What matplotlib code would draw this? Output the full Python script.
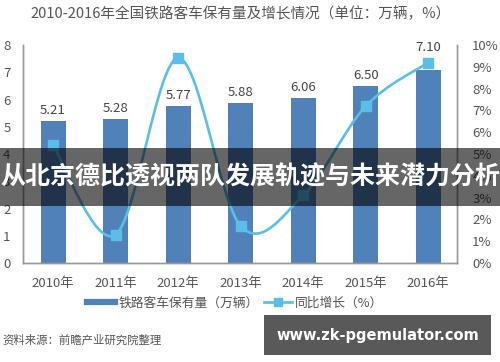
import numpy as np
import matplotlib
matplotlib.use("Agg")
import matplotlib.pyplot as plt
from matplotlib.path import Path
from matplotlib.patches import PathPatch, Rectangle
from matplotlib.lines import Line2D

plt.rcParams['font.family'] = ['Noto Sans CJK SC', 'DejaVu Sans']

# 数据
years = ['2010年', '2011年', '2012年', '2013年', '2014年', '2015年', '2016年']
stock = [5.21, 5.28, 5.77, 5.88, 6.06, 6.50, 7.10]      # 万辆
growth = [5.4, 1.3, 9.4, 1.7, 3.1, 7.2, 9.2]             # %
left_ticks = [0, 1, 2, 3, 4, 5, 6, 7, 8]
right_ticks = [0, 1, 2, 3, 4, 5, 6, 7, 8, 9, 10]
right_labels = ['%d%%' % t for t in right_ticks]

bar_color = '#5181b9'
line_color = '#5bbdea'
text_gray = '#555555'

fig = plt.figure(figsize=(5, 3.62), dpi=100)
ax = fig.add_axes([0.046, 0.2735, 0.868, 0.602])
ax2 = ax.twinx()

x = np.arange(len(years))
ax.bar(x, stock, width=0.4, color=bar_color, zorder=2)

ax.set_xlim(-0.48, 6.46)
ax.set_ylim(0, 8)
ax2.set_ylim(0, 10)
ax.set_xticks(x)
ax.set_xticklabels(years)
ax.set_yticks(left_ticks)
ax2.set_yticks(right_ticks)
ax2.set_yticklabels(right_labels)

for a in (ax, ax2):
    a.spines['top'].set_visible(False)
    for s in ('left', 'right', 'bottom'):
        a.spines[s].set_color('#999999')
        a.spines[s].set_linewidth(1)
ax.tick_params(axis='x', length=0, pad=10, labelsize=9.5, labelcolor=text_gray)
ax.tick_params(axis='y', length=0, pad=9, labelsize=9.5, labelcolor=text_gray)
ax2.tick_params(axis='y', length=0, pad=11, labelsize=9.5, labelcolor=text_gray)

# 平滑曲线 (Catmull-Rom -> Bezier)
pts = np.column_stack([x, growth]).astype(float)
verts = [tuple(pts[0])]
codes = [Path.MOVETO]
n = len(pts)
for i in range(n - 1):
    p0 = pts[max(i - 1, 0)]
    p1 = pts[i]
    p2 = pts[i + 1]
    p3 = pts[min(i + 2, n - 1)]
    c1 = p1 + (p2 - p0) / 6.0
    c2 = p2 - (p3 - p1) / 6.0
    verts += [tuple(c1), tuple(c2), tuple(p2)]
    codes += [Path.CURVE4] * 3
curve = PathPatch(Path(verts, codes), facecolor='none', edgecolor=line_color,
                  lw=1.9, zorder=3, transform=ax2.transData)
ax2.add_patch(curve)
ax2.plot(x, growth, linestyle='none', marker='s', markersize=7,
         color=line_color, zorder=4)

# 柱顶数值（最后一个避开折线标记，上移）
for i, (xi, v) in enumerate(zip(x, stock)):
    dy = 11 if i == len(stock) - 1 else 3
    ax2.annotate('%.2f' % v, (xi, v), xycoords=ax.transData, xytext=(0, dy),
                 textcoords='offset points', ha='center', va='bottom',
                 fontsize=9.5, color='#444444', zorder=5)

fig.text(0.06, 0.962, '2010-2016年全国铁路客车保有量及增长情况（单位：万辆，%）',
         fontsize=10.5, color=text_gray, va='center', ha='left')

handles = [Line2D([], [], color=bar_color, lw=4.5),
           Line2D([], [], color=line_color, lw=1.9, marker='s', markersize=6)]
fig.legend(handles, ['铁路客车保有量（万辆）', '同比增长（%）'], loc='center left',
           bbox_to_anchor=(0.174, 0.163), ncol=2, frameon=False, fontsize=9.2,
           handlelength=2.2, handletextpad=0.25, columnspacing=0.4,
           borderpad=0, borderaxespad=0, labelcolor=text_gray)

fig.text(0.004, 0.06, '资料来源：前瞻产业研究院整理', fontsize=8.2,
         color=text_gray, va='center', ha='left')

# 叠加横幅与水印
fig.patches.append(Rectangle((0, 0.431), 1, 0.16, transform=fig.transFigure,
                             facecolor='black', alpha=0.6, zorder=10))
fig.text(0.0, 0.511, '从北京德比透视两队发展轨迹与未来潜力分析', fontsize=18,
         fontweight='bold', color='white', va='center', ha='left', zorder=11)
fig.patches.append(Rectangle((0.528, 0.019), 0.454, 0.111, transform=fig.transFigure,
                             facecolor='black', alpha=0.65, zorder=10))
fig.text(0.755, 0.072, 'www.zk-pgemulator.com', fontsize=10.5, fontweight='bold',
         family=['DejaVu Sans'], color='white', va='center', ha='center', zorder=11)

fig.savefig('out.png', dpi=100)
